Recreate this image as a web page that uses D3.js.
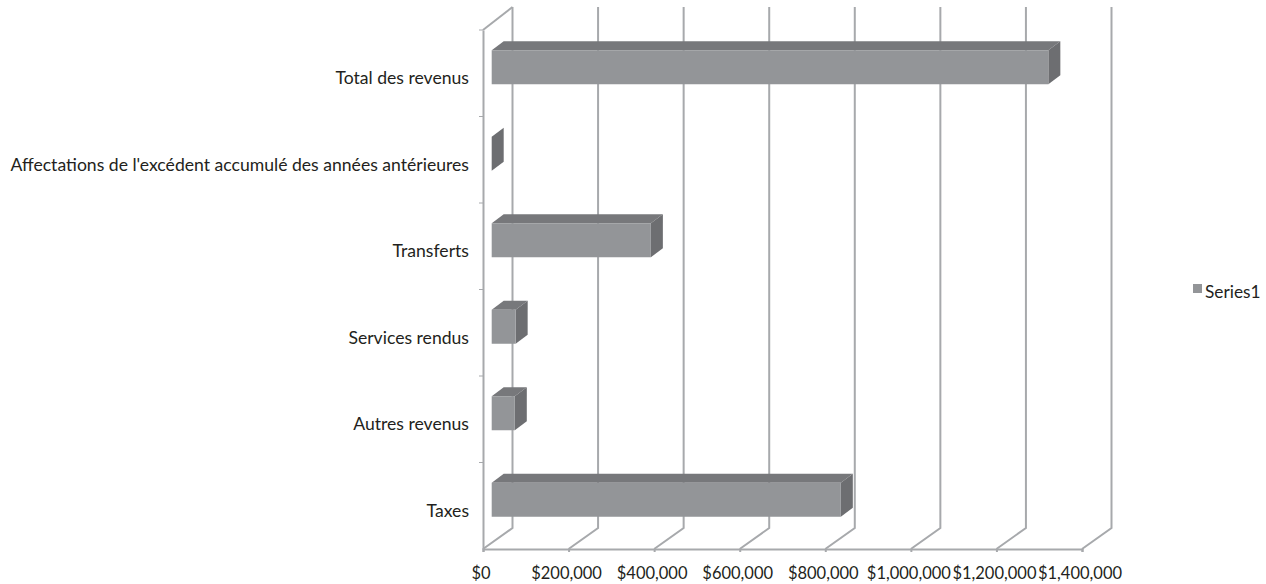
<!DOCTYPE html>
<html>
<head>
<meta charset="utf-8">
<script src="https://cdn.jsdelivr.net/npm/d3@7"></script>
<style>
body { margin: 0; background: #fff; }
svg { display: block; }
text { font-family: Lato, sans-serif; fill: #231f20; }
</style>
</head>
<body>
<svg width="1266" height="584"></svg>
<script>
var categories = ['Total des revenus', "Affectations de l'excédent accumulé des années antérieures", 'Transferts', 'Services rendus', 'Autres revenus', 'Taxes'];
var values = [1301000, 0, 372000, 56000, 54000, 816000];
var xTicks = [0, 200000, 400000, 600000, 800000, 1000000, 1200000, 1400000];
var seriesName = 'Series1';

var svg = d3.select('svg');

var ScaleX = d3.scaleLinear().domain([0, 1400000]).range([483, 1082]);
var ScaleY = d3.scaleBand().domain(categories).range([30, 549]);

// 3d offsets: wall depth and bar depth
var wallX = 29.5, wallY = -21;
var barX = 12, barY = -9;
var barStart = 8.7, barShift = -6, barHeight = 34;

var gridColor = '#a7a9ac';

// gridlines: across the floor, then up the back wall
svg.append('g').selectAll('path')
    .data(xTicks)
    .enter()
    .append('path')
    .attr('d', function(d){
        var x = ScaleX(d);
        return 'M' + x + ',549L' + (x + wallX) + ',' + (549 + wallY) + 'L' + (x + wallX) + ',' + (30 + wallY - 2);
    })
    .attr('fill', 'none')
    .attr('stroke', gridColor)
    .attr('stroke-width', 2);

// left wall top edge
svg.append('path')
    .attr('d', 'M483,30L' + (483 + wallX) + ',' + (30 + wallY - 2))
    .attr('fill', 'none')
    .attr('stroke', gridColor)
    .attr('stroke-width', 2);

// x axis
var xAxis = svg.append('g')
    .attr('transform', 'translate(0,549)')
    .call(d3.axisBottom(ScaleX).tickValues(xTicks).tickSize(3).tickPadding(15).tickFormat(function(d){
        return '$' + d3.format(',')(d);
    }));
xAxis.selectAll('text')
    .style('font-size', '16.5px')
    .attr('fill', '#231f20')
    .attr('dx', -2.5);
xAxis.selectAll('line').attr('stroke', gridColor).attr('stroke-width', 2);
xAxis.select('.domain').attr('stroke', gridColor).attr('stroke-width', 2);

// y axis
var yAxis = svg.append('g')
    .attr('transform', 'translate(483,0)')
    .call(d3.axisLeft(ScaleY).tickSize(0).tickPadding(14));
yAxis.selectAll('text')
    .style('font-size', '17.6px')
    .attr('fill', '#231f20')
    .attr('dy', '0.62em');
yAxis.select('.domain').attr('stroke', gridColor).attr('stroke-width', 2);

// category ticks sit on band edges
svg.append('g').selectAll('line')
    .data(categories)
    .enter()
    .append('line')
    .attr('x1', 479)
    .attr('x2', 483)
    .attr('y1', function(d){ return ScaleY(d); })
    .attr('y2', function(d){ return ScaleY(d); })
    .attr('stroke', gridColor)
    .attr('stroke-width', 1);

var bars = categories.map(function(c, i){
    var top = ScaleY(c) + ScaleY.bandwidth() / 2 + barShift - barHeight / 2;
    return {
        x0: ScaleX(0) + barStart,
        x1: ScaleX(values[i]) + barStart,
        top: top,
        bottom: top + barHeight
    };
});

var barG = svg.append('g').selectAll('g')
    .data(bars)
    .enter()
    .append('g');

// top face
barG.append('path')
    .attr('d', function(b){
        return 'M' + b.x0 + ',' + b.top + 'L' + (b.x0 + barX) + ',' + (b.top + barY) +
            'L' + (b.x1 + barX) + ',' + (b.top + barY) + 'L' + b.x1 + ',' + b.top + 'Z';
    })
    .attr('fill', '#77787b');

// side face
barG.append('path')
    .attr('d', function(b){
        return 'M' + b.x1 + ',' + b.top + 'L' + (b.x1 + barX) + ',' + (b.top + barY) +
            'L' + (b.x1 + barX) + ',' + (b.bottom + barY) + 'L' + b.x1 + ',' + b.bottom + 'Z';
    })
    .attr('fill', '#6d6e71');

// front face
barG.append('rect')
    .attr('x', function(b){ return b.x0; })
    .attr('y', function(b){ return b.top; })
    .attr('width', function(b){ return b.x1 - b.x0; })
    .attr('height', barHeight)
    .attr('fill', '#939598');

// legend
svg.append('rect')
    .attr('x', 1193)
    .attr('y', 284)
    .attr('width', 9)
    .attr('height', 9)
    .attr('fill', '#939598');
svg.append('text')
    .attr('x', 1205)
    .attr('y', 298)
    .style('font-size', '17.3px')
    .text(seriesName);
</script>
</body>
</html>
